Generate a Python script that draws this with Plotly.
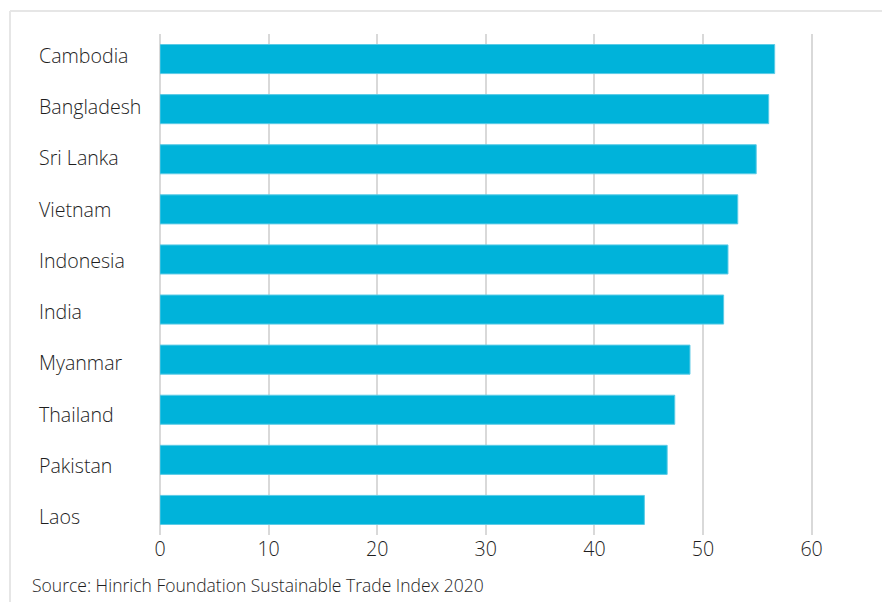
import plotly.graph_objects as go

countries = ["Cambodia", "Bangladesh", "Sri Lanka", "Vietnam", "Indonesia",
             "India", "Myanmar", "Thailand", "Pakistan", "Laos"]
scores = [56.6, 56.05, 54.9, 53.2, 52.3, 51.9, 48.8, 47.4, 46.7, 44.6]
x_ticks = [0, 10, 20, 30, 40, 50, 60]
source_text = "Source: Hinrich Foundation Sustainable Trade Index 2020"

OFF = 8  # page body margin offset
W, H = 890, 602
L, T = 160 - OFF, 34 - OFF
plot_bottom = 535 - OFF
B = H - plot_bottom
R = 24
pw, ph = W - L - R, H - T - B

def px(x):
    return (x - OFF - L) / pw

def py(y):
    return (plot_bottom - (y - OFF)) / ph

FONT = "Open Sans"
WEIGHT = 350
TXT = "#1e1e1e"

fig = go.Figure(go.Bar(
    x=scores, y=countries, orientation="h",
    marker=dict(color="#00b3da", line=dict(color="#5ccbe6", width=1)),
    width=0.58,
))

annotations = [
    dict(x=px(37), y=c, xref="paper", yref="y", text=c, showarrow=False,
         xanchor="left", yanchor="middle", yshift=4 - i * 11 / 9,
         font=dict(family=FONT, size=19.6, color=TXT, weight=WEIGHT))
    for i, c in enumerate(countries)
]
annotations.append(dict(x=px(30), y=py(585), xref="paper", yref="paper",
                        text=source_text, showarrow=False, xanchor="left",
                        yanchor="middle",
                        font=dict(family=FONT, size=17.5, color=TXT, weight=WEIGHT)))

fig.update_layout(
    width=W, height=H,
    margin=dict(l=L, r=R, t=T, b=B, pad=0),
    paper_bgcolor="white", plot_bgcolor="white",
    showlegend=False,
    font=dict(family=FONT, size=19.6, color=TXT, weight=WEIGHT),
    xaxis=dict(range=[0, pw / 10.86], tickvals=x_ticks,
               showgrid=True, gridcolor="#d9d9d9", gridwidth=1.5,
               zeroline=True, zerolinecolor="#d9d9d9", zerolinewidth=1.5,
               showline=False, ticks="", fixedrange=True,
               tickfont=dict(family=FONT, size=19.6, color=TXT, weight=WEIGHT)),
    yaxis=dict(categoryorder="array", categoryarray=countries[::-1],
               showticklabels=False, showgrid=False, zeroline=False,
               showline=False, ticks="", range=[-0.5, 9.5]),
    annotations=annotations,
    shapes=[
        dict(type="line", xref="paper", yref="paper", x0=px(10), x1=px(10),
             y0=py(11), y1=py(610), line=dict(color="#e6e6e6", width=2)),
        dict(type="line", xref="paper", yref="paper", x0=px(10), x1=px(898),
             y0=py(11), y1=py(11), line=dict(color="#e6e6e6", width=2)),
    ],
)

fig.write_html("out.html")
